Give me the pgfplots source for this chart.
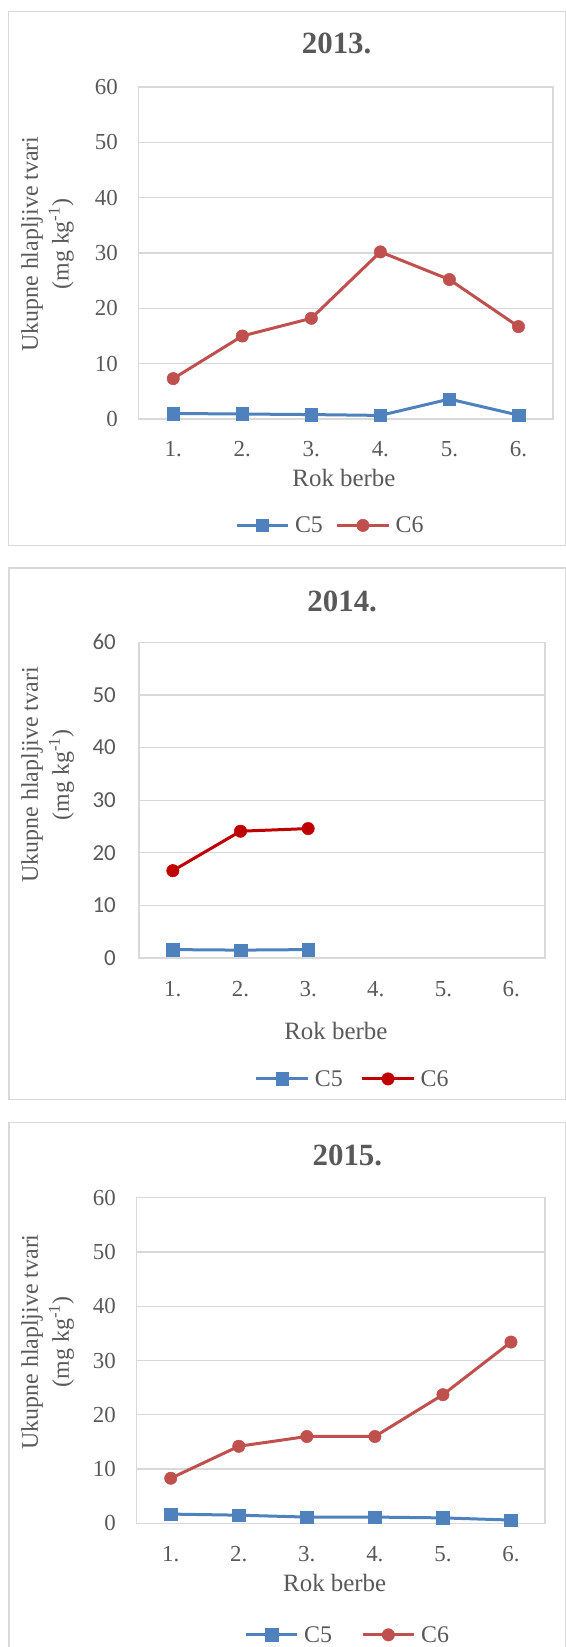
\documentclass[border=0pt]{standalone}
\usepackage{fontspec}
\setmainfont{Liberation Serif}
\newfontfamily\carlito{Carlito}
\usepackage{pgfplots}
\pgfplotsset{compat=1.18}
\definecolor{gridc}{HTML}{D9D9D9}
\definecolor{txt}{HTML}{595959}
\definecolor{ttl}{HTML}{595959}
\definecolor{cfive}{HTML}{4F81BD}
\definecolor{csix}{HTML}{C0504D}
\definecolor{csixdark}{HTML}{C00000}
\pgfplotsset{
  panel/.style={
    scale only axis,
    xmin=0.5, xmax=6.5, ymin=0, ymax=60,
    xtick={1,2,3,4,5,6}, xticklabels={1.,2.,3.,4.,5.,6.},
    ytick={0,10,20,30,40,50,60},
    ymajorgrids,
    grid style={draw=gridc, line width=1.3bp},
    axis line style={draw=gridc, line width=1.3bp},
    major tick length=0pt,
    /pgf/number format/assume math mode=true,
    tick label style={text=txt, font=\fontsize{23}{27}\selectfont},
    yticklabel style={anchor=east, inner sep=0pt, xshift=-20.7bp},
    xticklabel style={anchor=base, inner sep=0pt, yshift=-37bp},
    ylabel={Ukupne hlapljive tvari\\(mg kg\textsuperscript{-1})},
    ylabel style={align=center, anchor=center, text=txt, font=\fontsize{24}{31}\selectfont},
    xlabel={Rok berbe},
    xlabel style={anchor=center, text=txt, font=\fontsize{25}{29}\selectfont},
    title style={anchor=center, text=ttl, font=\bfseries\fontsize{31}{36}\selectfont},
    legend columns=2,
    legend style={draw=none, fill=none, inner sep=0pt, anchor=center,
      font=\fontsize{24}{28}\selectfont, text=txt,
      nodes={inner sep=0pt, anchor=west},
      /tikz/every odd column/.style={column sep=5.4bp}},
    legend image code/.code={%
      \draw[mark repeat=2, mark phase=2, #1] plot coordinates {(0bp,0bp) (25.8bp,0bp) (51.6bp,0bp)};},
    every axis plot/.append style={line width=3bp},
  },
  cfivestyle/.style={color=cfive, mark=square*, mark size=6.3bp, mark options={solid, fill=cfive, draw=cfive, line width=0.5bp}},
  csixstyle/.style={color=#1, mark=*, mark size=6.2bp, mark options={solid, fill=#1, draw=#1, line width=0.5bp}},
}
\begin{document}
\begin{tikzpicture}
\useasboundingbox (0,0) rectangle (566bp,-1647bp);
\draw[gridc, line width=1.3bp] (8.6bp,-11.7bp) rectangle (565.5bp,-545.5bp);
\draw[gridc, line width=1.3bp] (9bp,-568.1bp) rectangle (565.5bp,-1099.5bp);
\draw[gridc, line width=1.3bp] (9bp,-1700bp) -- (9bp,-1122.6bp) -- (565.5bp,-1122.6bp) -- (565.5bp,-1700bp);

% ---------------- 2013 ----------------
\begin{axis}[panel,
  at={(138.7bp,-419bp)}, anchor=south west,
  width=414.3bp, height=332bp,
  title={2013.}, title style={at={(axis description cs:0.4777,1.112)}},
  ylabel style={at={(axis description cs:-0.22,0.527)}},
  xlabel style={at={(axis description cs:0.4955,-0.178)}},
  legend style={at={(axis description cs:0.46,-0.3205)},
    /tikz/every even column/.style={column sep=12.7bp}},
]
\addplot[cfivestyle] coordinates {(1,1.0) (2,0.9) (3,0.8) (4,0.65) (5,3.6) (6,0.7)};
\addlegendentry{C5}
\addplot[csixstyle=csix] coordinates {(1,7.3) (2,15.0) (3,18.2) (4,30.2) (5,25.2) (6,16.7)};
\addlegendentry{C6}
\end{axis}

% ---------------- 2014 ----------------
\begin{axis}[panel,
  at={(139bp,-958bp)}, anchor=south west,
  width=406bp, height=315.7bp,
  yticklabel style={font=\carlito\fontsize{23}{27}\selectfont, xshift=-2.3bp},
  xticklabel style={yshift=-1bp},
  title={2014.}, title style={at={(axis description cs:0.5005,1.111)}},
  ylabel style={at={(axis description cs:-0.225,0.58)}},
  xlabel style={at={(axis description cs:0.485,-0.231)}},
  legend style={at={(axis description cs:0.524,-0.383)},
    /tikz/every even column/.style={column sep=18bp}},
]
\addplot[cfivestyle] coordinates {(1,1.6) (2,1.5) (3,1.6)};
\addlegendentry{C5}
\addplot[csixstyle=csixdark] coordinates {(1,16.6) (2,24.1) (3,24.6)};
\addlegendentry{C6}
\end{axis}

% ---------------- 2015 ----------------
\begin{axis}[panel,
  at={(136.7bp,-1523.3bp)}, anchor=south west,
  width=408.3bp, height=325.6bp,
  xticklabel style={yshift=-1bp},
  title={2015.}, title style={at={(axis description cs:0.516,1.113)}},
  ylabel style={at={(axis description cs:-0.218,0.557)}},
  xlabel style={at={(axis description cs:0.485,-0.182)}},
  legend style={at={(axis description cs:0.514,-0.3425)},
    /tikz/every even column/.style={column sep=29bp}},
]
\addplot[cfivestyle] coordinates {(1,1.7) (2,1.5) (3,1.15) (4,1.15) (5,1.0) (6,0.6)};
\addlegendentry{C5}
\addplot[csixstyle=csix] coordinates {(1,8.3) (2,14.2) (3,16.0) (4,16.0) (5,23.7) (6,33.4)};
\addlegendentry{C6}
\end{axis}
\end{tikzpicture}
\end{document}
